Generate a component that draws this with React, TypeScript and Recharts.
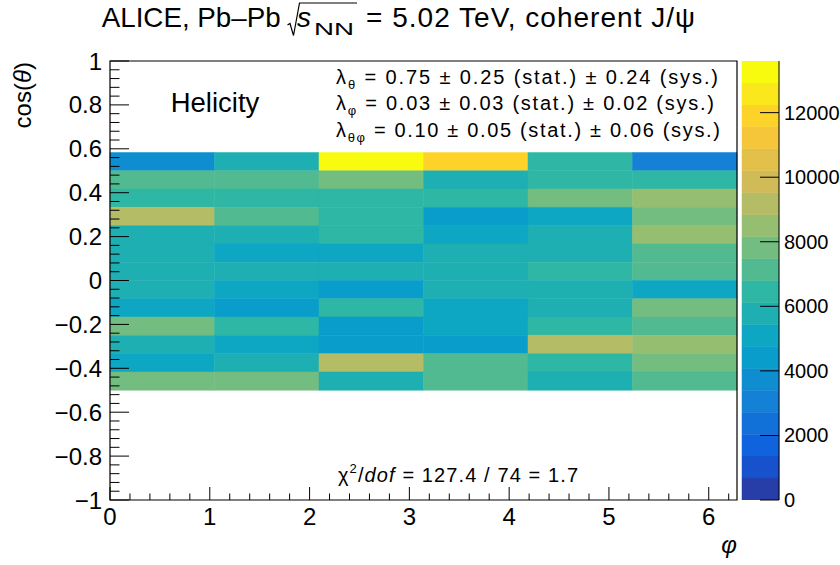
import { Bar, BarChart, ComposedChart, ReferenceArea, Scatter, XAxis, YAxis } from "recharts";

// phi bins (6) and cos(theta) bins (13, listed top to bottom)
const phiEdges = [0, 1.0472, 2.0944, 3.1416, 4.1888, 5.236, 6.2832];
const cosEdges = [0.5833, 0.5, 0.4167, 0.3333, 0.25, 0.1667, 0.0833, 0, -0.0833, -0.1667, -0.25, -0.3333, -0.4167, -0.5];

// counts per cos(theta) row, one value per phi bin
const row01 = [3750, 5800, 13300, 11900, 6450, 3100];
const row02 = [7150, 7100, 7800, 5750, 6500, 6400];
const row03 = [6450, 6500, 6400, 6450, 7850, 8500];
const row04 = [9200, 7100, 6450, 4400, 5100, 7800];
const row05 = [5800, 5750, 6450, 5100, 5800, 8550];
const row06 = [5750, 5100, 5050, 5800, 5750, 7100];
const row07 = [5800, 5750, 5800, 5750, 6450, 7150];
const row08 = [5750, 5100, 4450, 5800, 5750, 5100];
const row09 = [5100, 4400, 6450, 5150, 5800, 7800];
const row10 = [7850, 6450, 4400, 5100, 6500, 7150];
const row11 = [5800, 5100, 4400, 4450, 9200, 8500];
const row12 = [5100, 5750, 9150, 7100, 6450, 7800];
const row13 = [7800, 7850, 5800, 7150, 5750, 7100];
const countRows = [row01, row02, row03, row04, row05, row06, row07, row08, row09, row10, row11, row12, row13];

const phiMajorTicks = [0, 1, 2, 3, 4, 5, 6];
const phiTickLabels = ["0", "1", "2", "3", "4", "5", "6"];
const cosMajorTicks = [-1, -0.8, -0.6, -0.4, -0.2, 0, 0.2, 0.4, 0.6, 0.8, 1];
const cosTickLabels = ["\u22121", "\u22120.8", "\u22120.6", "\u22120.4", "\u22120.2", "0", "0.2", "0.4", "0.6", "0.8", "1"];
const zTicks = [0, 2000, 4000, 6000, 8000, 10000, 12000];
const zTickLabels = ["0", "2000", "4000", "6000", "8000", "10000", "12000"];

const zMax = 13600;
const nBands = 20;
const bandWidth = zMax / nBands;

// ROOT kBird palette
const birdStops = [0, 0.125, 0.25, 0.375, 0.5, 0.625, 0.75, 0.875, 1];
const birdR = [0.2082, 0.0592, 0.078, 0.0232, 0.1802, 0.5301, 0.8186, 0.9956, 0.9764];
const birdG = [0.1664, 0.3599, 0.5041, 0.6419, 0.7178, 0.7492, 0.7328, 0.7862, 0.9832];
const birdB = [0.5293, 0.8684, 0.8385, 0.7914, 0.6425, 0.4662, 0.3499, 0.1968, 0.0539];

function birdColor(f: number) {
  let i = 0;
  while (i < birdStops.length - 2 && f > birdStops[i + 1]) i++;
  const t = (f - birdStops[i]) / (birdStops[i + 1] - birdStops[i]);
  const c = (a: number[]) => Math.round(255 * (a[i] + (a[i + 1] - a[i]) * t));
  return `rgb(${c(birdR)},${c(birdG)},${c(birdB)})`;
}

function bandColor(k: number) {
  const idx = Math.floor(((k + 0.99) * 255) / nBands);
  return birdColor(Math.min(idx / 254, 1));
}

const valueColor = (v: number) => bandColor(Math.min(nBands - 1, Math.floor(v / bandWidth)));

const cells = countRows.flatMap((row, r) =>
  row.map((count, c) => ({
    phiLo: phiEdges[c],
    phiHi: phiEdges[c + 1],
    cosHi: cosEdges[r],
    cosLo: cosEdges[r + 1],
    phi: (phiEdges[c] + phiEdges[c + 1]) / 2,
    cos: (cosEdges[r] + cosEdges[r + 1]) / 2,
    count,
  }))
);

const phiAllTicks: number[] = [];
for (let i = 0; i <= 31; i++) phiAllTicks.push(Number((i * 0.2).toFixed(2)));
const cosAllTicks: number[] = [];
for (let i = 0; i <= 50; i++) cosAllTicks.push(Number((-1 + i * 0.04).toFixed(2)));

// colour scale: one stacked segment per palette band
const bands = Array.from({ length: nBands }, (_, k) => k);
const paletteRow: Record<string, number | string> = { name: "z" };
bands.forEach((k) => (paletteRow[`b${k}`] = bandWidth));
const paletteData = [paletteRow];

const font = "'Liberation Sans', Arial, Helvetica, sans-serif";

const majorIndex = (list: number[], v: number) => list.findIndex((m) => Math.abs(m - v) < 1e-6);

const CosTick = (props: any) => {
  const { x, y, payload } = props;
  const i = majorIndex(cosMajorTicks, payload.value);
  return (
    <g>
      <line x1={x} x2={x + (i >= 0 ? 19 : 9.5)} y1={y} y2={y} stroke="#000" strokeWidth={1} />
      {i >= 0 && (
        <text x={x - 8} y={y + 8.5} textAnchor="end" fontSize={24} fontFamily={font} fill="#000">
          {cosTickLabels[i]}
        </text>
      )}
    </g>
  );
};

const PhiTick = (props: any) => {
  const { x, y, payload } = props;
  const i = majorIndex(phiMajorTicks, payload.value);
  return (
    <g>
      <line x1={x} x2={x} y1={y} y2={y - (i >= 0 ? 13 : 6.5)} stroke="#000" strokeWidth={1} />
      {i >= 0 && (
        <text x={x} y={y + 25} textAnchor="middle" fontSize={24} fontFamily={font} fill="#000">
          {phiTickLabels[i]}
        </text>
      )}
    </g>
  );
};

const ZTick = (props: any) => {
  const { x, y, payload } = props;
  const i = majorIndex(zTicks, payload.value);
  return (
    <g>
      <line x1={x} x2={x - 19} y1={y} y2={y} stroke="#000" strokeWidth={1} />
      <text x={x + 5} y={y + 7} textAnchor="start" fontSize={20} fontFamily={font} fill="#000">
        {zTickLabels[i]}
      </text>
    </g>
  );
};

export default function App() {
  return (
    <div style={{ position: "relative", width: 840, height: 565, background: "#fff", fontFamily: font }}>
      <style>{"body{margin:0}"}</style>
      <ComposedChart
        width={840}
        height={565}
        data={cells}
        margin={{ top: 61, right: 103, bottom: 64, left: 109 }}
        style={{ position: "absolute", left: 0, top: 0 }}
      >
        <XAxis
          type="number"
          dataKey="phi"
          domain={[0, phiEdges[6]]}
          allowDataOverflow
          ticks={phiAllTicks}
          interval={0}
          height={1}
          tickSize={0}
          tickMargin={0}
          axisLine={false}
          tickLine={false}
          tick={(p: any) => <PhiTick {...p} />}
        />
        <YAxis
          type="number"
          dataKey="cos"
          domain={[-1, 1]}
          allowDataOverflow
          ticks={cosAllTicks}
          interval={0}
          width={1}
          tickSize={0}
          tickMargin={0}
          axisLine={false}
          tickLine={false}
          tick={(p: any) => <CosTick {...p} />}
        />
        {cells.map((c, i) => (
          <ReferenceArea
            key={i}
            x1={c.phiLo}
            x2={c.phiHi}
            y1={c.cosLo}
            y2={c.cosHi}
            fill={valueColor(c.count)}
            fillOpacity={1}
            stroke={valueColor(c.count)}
            strokeWidth={0.5}
            ifOverflow="visible"
          />
        ))}
        <Scatter dataKey="cos" isAnimationActive={false} fill="none" shape={() => <g />} />
        <ReferenceArea x1={0} x2={phiEdges[6]} y1={-1} y2={1} fill="none" stroke="#000" strokeWidth={1.2} ifOverflow="visible" />
      </ComposedChart>

      <BarChart
        width={840}
        height={565}
        data={paletteData}
        margin={{ top: 61, right: 60, bottom: 65, left: 742 }}
        barCategoryGap={0}
        style={{ position: "absolute", left: 0, top: 0 }}
      >
        <XAxis dataKey="name" hide />
        <YAxis
          orientation="right"
          type="number"
          domain={[0, zMax]}
          allowDataOverflow
          ticks={zTicks}
          interval={0}
          width={1}
          tickSize={0}
          tickMargin={0}
          axisLine={{ stroke: "#000" }}
          tickLine={false}
          tick={(p: any) => <ZTick {...p} />}
        />
        {bands.map((k) => (
          <Bar
            key={k}
            dataKey={`b${k}`}
            stackId="z"
            fill={bandColor(k)}
            stroke={bandColor(k)}
            strokeWidth={0.5}
            isAnimationActive={false}
          />
        ))}
      </BarChart>

      <svg width={840} height={565} style={{ position: "absolute", left: 0, top: 0, pointerEvents: "none" }} fontFamily={font}>
        <text x={101.7} y={27} fontSize={28} fill="#000" textLength={179} lengthAdjust="spacingAndGlyphs">ALICE, Pb–Pb</text>
        <path d="M287.5 25 L290 23.5 L293.5 35.5 L299.5 3 L357 3" fill="none" stroke="#000" strokeWidth={1.2} />
        <text x={297} y={27} fontSize={28} fontStyle="italic" fill="#000">s</text>
        <text x={314} y={35} fontSize={17} fill="#000" textLength={40} lengthAdjust="spacingAndGlyphs">NN</text>
        <text x={366} y={27} fontSize={28} fill="#000" textLength={329} lengthAdjust="spacing">= 5.02 TeV, coherent J/ψ</text>

        <text x={170.7} y={112.3} fontSize={27.5} fill="#000">Helicity</text>

        <text x={336} y={84} fontSize={20} fill="#000" textLength={382} lengthAdjust="spacing">
          λ<tspan fontSize={13} dy={5}>θ</tspan>
          <tspan dy={-5}> = 0.75 ± 0.25 (stat.) ± 0.24 (sys.)</tspan>
        </text>
        <text x={336} y={110} fontSize={20} fill="#000" textLength={378} lengthAdjust="spacing">
          λ<tspan fontSize={13} dy={5}>φ</tspan>
          <tspan dy={-5}> = 0.03 ± 0.03 (stat.) ± 0.02 (sys.)</tspan>
        </text>
        <text x={336} y={137} fontSize={20} fill="#000" textLength={384} lengthAdjust="spacing">
          λ<tspan fontSize={13} dy={5}>θφ</tspan>
          <tspan dy={-5}> = 0.10 ± 0.05 (stat.) ± 0.06 (sys.)</tspan>
        </text>

        <text x={338} y={482} fontSize={20} fill="#000" textLength={240} lengthAdjust="spacing">
          χ<tspan fontSize={13} dy={-9}>2</tspan>
          <tspan dy={9}>/</tspan>
          <tspan fontStyle="italic">dof</tspan>
          <tspan> = 127.4 / 74 = 1.7</tspan>
        </text>

        <text transform="translate(31,62) rotate(-90)" textAnchor="end" fontSize={24} fill="#000">
          cos(<tspan fontStyle="italic">θ</tspan>)
        </text>
        <text x={737} y={553} textAnchor="end" fontSize={24} fontStyle="italic" fill="#000">φ</text>
      </svg>
    </div>
  );
}
